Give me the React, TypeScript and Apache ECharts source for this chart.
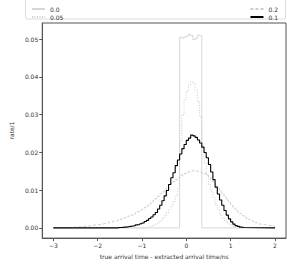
import React, { useEffect, useRef } from "react";
import * as echarts from "echarts";

// histogram bin width (ns) and plotted range
const BIN_WIDTH = 0.05;
const RANGE_START = -3;
const RANGE_END = 2;

// series "0.0" (uniform box), starts at -0.15
const box00Start = -0.15;
const box00Values = [0.0505, 0.0503, 0.0506, 0.0508, 0.0513, 0.051, 0.0499, 0.0502, 0.0511, 0.0509];

// series "0.05" (dotted), starts at -0.9
const s005Start = -0.9;
const s005Values = [
  0.0002, 0.0003, 0.0005, 0.0007, 0.001, 0.0014, 0.0018, 0.0025, 0.0032, 0.004,
  0.0048, 0.0058, 0.007, 0.0085, 0.0105, 0.023, 0.03, 0.034, 0.0362, 0.038,
  0.0387, 0.0383, 0.0365, 0.0335, 0.0295, 0.0215, 0.0172, 0.014, 0.0115, 0.0098,
  0.008, 0.0062, 0.0048, 0.0036, 0.0026, 0.002, 0.0014, 0.001, 0.0006, 0.0004,
  0.0002, 0.0001,
];

// series "0.2" (dashed), starts at -2.7
const s02Start = -2.7;
const s02Values = [
  0.0, 0.0001, 0.0001, 0.0002, 0.0002, 0.0003, 0.0003, 0.0004, 0.0005, 0.0005,
  0.0006, 0.0007, 0.0008, 0.0008, 0.0009, 0.001, 0.0011, 0.0012, 0.0013, 0.0015,
  0.0016, 0.0018, 0.0019, 0.0021, 0.0023, 0.0025, 0.0027, 0.003, 0.0032, 0.0034,
  0.0037, 0.004, 0.0043, 0.0046, 0.005, 0.0054, 0.0058, 0.0063, 0.0068, 0.0073,
  0.0078, 0.0084, 0.009, 0.0095, 0.0101, 0.0106, 0.0112, 0.0118, 0.0123, 0.0128,
  0.0133, 0.0137, 0.0141, 0.0144, 0.0146, 0.0149, 0.015, 0.0152, 0.0151, 0.0149,
  0.0148, 0.0146, 0.0144, 0.014, 0.0135, 0.0128, 0.0122, 0.0115, 0.0108, 0.01,
  0.0092, 0.0084, 0.0076, 0.0069, 0.0062, 0.0055, 0.0049, 0.0043, 0.0038, 0.0033,
  0.0029, 0.0025, 0.0022, 0.0019, 0.0017, 0.0014, 0.0012, 0.001, 0.0009, 0.0008,
  0.0007, 0.0006, 0.0005, 0.0004,
];

// series "0.1" (black), starts at -1.6
const s01Start = -1.6;
const s01Values = [
  0.0, 0.0001, 0.0001, 0.0002, 0.0002, 0.0003, 0.0004, 0.0005, 0.0006, 0.0008,
  0.0009, 0.0011, 0.0013, 0.0017, 0.002, 0.0025, 0.0029, 0.0035, 0.0041, 0.005,
  0.006, 0.0072, 0.0085, 0.0099, 0.0115, 0.0133, 0.0146, 0.0165, 0.018, 0.0196,
  0.021, 0.0221, 0.0232, 0.0238, 0.0246, 0.0244, 0.024, 0.0233, 0.0225, 0.0214,
  0.02, 0.0186, 0.0168, 0.0148, 0.0128, 0.0108, 0.009, 0.0074, 0.006, 0.0046,
  0.0034, 0.0024, 0.0016, 0.001, 0.0006, 0.0004, 0.0002, 0.0001,
];

const xTicks = [-3, -2, -1, 0, 1, 2];
const yTicks = [0, 0.01, 0.02, 0.03, 0.04, 0.05];

function toSteps(start: number, values: number[]): number[][] {
  const pts: number[][] = [[RANGE_START, 0], [start, 0]];
  values.forEach((v, i) => {
    const a = +(start + i * BIN_WIDTH).toFixed(4);
    const b = +(start + (i + 1) * BIN_WIDTH).toFixed(4);
    pts.push([a, v], [b, v]);
  });
  const end = +(start + values.length * BIN_WIDTH).toFixed(4);
  pts.push([end, 0], [RANGE_END, 0]);
  return pts;
}

const FONT = "DejaVu Sans";
const TEXT = "#333";
const AXIS = "#555";

export default function App() {
  const ref = useRef<HTMLDivElement>(null);
  useEffect(() => {
    if (!ref.current) return;
    const chart = echarts.init(ref.current, undefined, { renderer: "svg" });
    const lineSeries = (name: string, start: number, vals: number[], color: string, width: number, type: any) => ({
      name,
      type: "line",
      data: toSteps(start, vals),
      showSymbol: false,
      symbol: "none",
      lineStyle: { color, width, type },
      itemStyle: { color },
      silent: true,
    });
    const legendBase = {
      top: 1,
      orient: "vertical",
      itemWidth: 13,
      itemHeight: 7,
      itemGap: 2,
      itemStyle: { opacity: 0 },
      textStyle: { fontSize: 6, color: TEXT, fontFamily: FONT },
      selectedMode: false,
    };
    chart.setOption({
      animation: false,
      textStyle: { fontFamily: FONT },
      grid: { left: 25, right: 1, top: 23, bottom: 17, show: true, borderColor: AXIS, borderWidth: 1 },
      legend: [
        { ...legendBase, left: 26, data: ["0.0", "0.05"] },
        { ...legendBase, right: 4, data: ["0.2", "0.1"] },
      ],
      graphic: [
        {
          type: "rect",
          shape: { x: 25.5, y: -2, width: 260, height: 21, r: 2 },
          style: { fill: "none", stroke: "#dcdcdc", lineWidth: 1 },
          silent: true,
        },
      ],
      xAxis: {
        type: "value",
        min: -3.25,
        max: 2.25,
        name: "true arrival time - extracted arrival time/ns",
        nameLocation: "middle",
        nameGap: 14,
        nameTextStyle: { fontSize: 6, color: TEXT, fontFamily: FONT },
        axisLine: { show: true, onZero: false, lineStyle: { color: AXIS } },
        axisTick: { show: true, length: 3, lineStyle: { color: AXIS }, customValues: xTicks },
        axisLabel: {
          fontSize: 6,
          color: TEXT,
          margin: 4,
          customValues: xTicks,
          formatter: (v: number) => String(v).replace("-", "\u2212"),
        },
        splitLine: { show: false },
      },
      yAxis: {
        type: "value",
        min: -0.0027,
        max: 0.0543,
        name: "rate/1",
        nameLocation: "middle",
        nameRotate: 90,
        nameGap: 19,
        nameTextStyle: { fontSize: 6, color: TEXT, fontFamily: FONT },
        axisLine: { show: true, onZero: false, lineStyle: { color: AXIS } },
        axisTick: { show: true, length: 3, lineStyle: { color: AXIS }, customValues: yTicks },
        axisLabel: {
          fontSize: 6,
          color: TEXT,
          margin: 4,
          customValues: yTicks,
          formatter: (v: number) => v.toFixed(2),
        },
        splitLine: { show: false },
      },
      series: [
        lineSeries("0.0", box00Start, box00Values, "#d6d6d6", 1, "solid"),
        lineSeries("0.05", s005Start, s005Values, "#cccccc", 1, [1, 1.5]),
        lineSeries("0.2", s02Start, s02Values, "#cccccc", 1, [3, 2]),
        lineSeries("0.1", s01Start, s01Values, "#000000", 1.1, "solid"),
      ],
    });
    return () => chart.dispose();
  }, []);
  return <div ref={ref} style={{ width: 287, height: 264, position: "absolute", left: 0, top: 0 }} />;
}
